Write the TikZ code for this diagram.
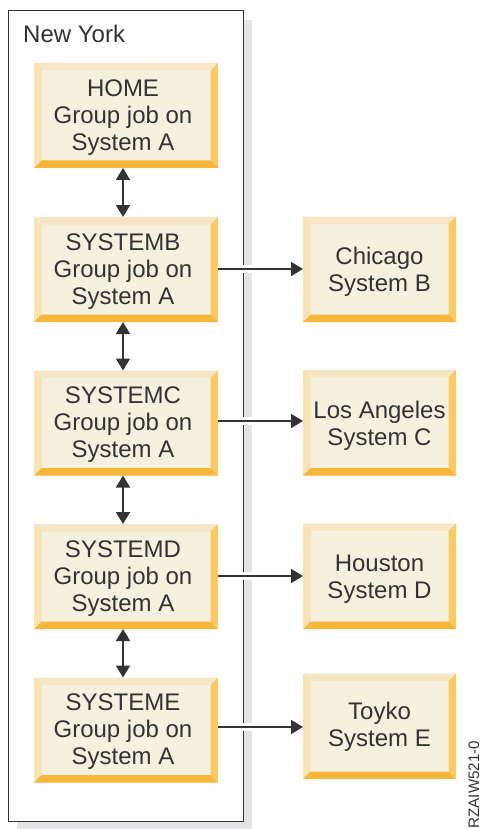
\documentclass[tikz,border=0pt]{standalone}
\usepackage{fontspec}
\setmainfont{Liberation Sans}
\usetikzlibrary{arrows.meta}
\definecolor{inkc}{HTML}{333333}
\definecolor{facec}{HTML}{F6F1DF}
\definecolor{topc}{HTML}{F6E6C6}
\definecolor{leftc}{HTML}{F8E3B2}
\definecolor{rightc}{HTML}{F8CB62}
\definecolor{botc}{HTML}{F5B63A}
\definecolor{shadowc}{HTML}{E3E4E6}
\tikzset{
  x=1pt,y=-1pt,
  boxtext/.style={inner sep=0pt,text=inkc,align=center,font=\fontsize{24}{27}\selectfont},
  bevelbox/.style={rectangle,inner sep=0pt,outer sep=0pt,fill=facec,anchor=north west,
    path picture={
      \coordinate (nw) at (path picture bounding box.north west);
      \coordinate (se) at (path picture bounding box.south east);
      \fill[topc] (nw) -- (nw-|se) -- ([shift={(-7.5,7.5)}]nw-|se) -- ([shift={(7.5,7.5)}]nw) -- cycle;
      \fill[leftc] (nw) -- (nw|-se) -- ([shift={(7.5,-7.5)}]nw|-se) -- ([shift={(7.5,7.5)}]nw) -- cycle;
      \fill[rightc] (nw-|se) -- (se) -- ([shift={(-7.5,-7.5)}]se) -- ([shift={(-7.5,7.5)}]nw-|se) -- cycle;
      \fill[botc] (nw|-se) -- (se) -- ([shift={(-7.5,-7.5)}]se) -- ([shift={(7.5,-7.5)}]nw|-se) -- cycle;
    }},
  leftbox/.style={bevelbox,minimum width=184,minimum height=105},
  rightbox/.style={bevelbox,minimum width=153,minimum height=105.5},
  lefttext/.style={boxtext,xshift=-3pt,yshift=-2pt},
  righttext/.style={boxtext,yshift=-2.5pt},
  link/.style={draw=inkc,line width=1.8pt,-{Triangle[length=12pt,width=14pt]}},
  duallink/.style={draw=inkc,line width=1.8pt,{Triangle[length=12pt,width=14pt]}-{Triangle[length=12pt,width=14pt]}},
  halo/.style={draw=white,line width=8pt},
}
\begin{document}
\begin{tikzpicture}
\useasboundingbox (0,0) rectangle (481,829);
\fill[shadowc] (17,20) rectangle (252,829);
\node[draw=inkc,fill=white,line width=1pt,minimum width=235,minimum height=810,anchor=north west,inner sep=0pt,outer sep=0pt] (site) at (8,11) {};
\node[anchor=base west,inner sep=0pt,text=inkc,font=\fontsize{24}{27}\selectfont] (ny) at (23,43) {New York};

\node[leftbox,label={[lefttext]center:{HOME\\Group job on\\System A}}] (home) at (34,63) {};
\node[leftbox,label={[lefttext]center:{SYSTEMB\\Group job on\\System A}}] (sysb) at (34,217) {};
\node[leftbox,label={[lefttext]center:{SYSTEMC\\Group job on\\System A}}] (sysc) at (34,370.5) {};
\node[leftbox,label={[lefttext]center:{SYSTEMD\\Group job on\\System A}}] (sysd) at (34,524) {};
\node[leftbox,label={[lefttext]center:{SYSTEME\\Group job on\\System A}}] (syse) at (34,677.5) {};

\node[rightbox,label={[righttext]center:{Chicago\\System B}}] (chi) at (303,216.5) {};
\node[rightbox,label={[righttext,yshift=-1pt]center:{Los Angeles\\System C}}] (la) at (303,370) {};
\node[rightbox,label={[righttext]center:{Houston\\System D}}] (hou) at (303,523.5) {};
\node[rightbox,label={[righttext,yshift=2pt]center:{Toyko\\System E}}] (tok) at (303,673.5) {};

\foreach \a/\b in {home/sysb,sysb/sysc,sysc/sysd,sysd/syse}{
  \draw[duallink] ([xshift=-3pt]\a.south) -- ([xshift=-3pt]\b.north);
}
\foreach \a/\b/\d in {sysb/chi/0.25pt,sysc/la/1.75pt,sysd/hou/0.25pt,syse/tok/-0.75pt}{
  \draw[halo] ([yshift=\d]\a.east |- \b.west) -- ([yshift=\d]\b.west);
  \draw[link] ([yshift=\d]\a.east |- \b.west) -- ([yshift=\d]\b.west);
}
\node[rotate=90,anchor=base east,inner sep=0pt,text=inkc,font=\fontsize{15.2}{15.2}\selectfont] (fig) at (479,740.5) {RZAIW521-0};
\end{tikzpicture}
\end{document}
